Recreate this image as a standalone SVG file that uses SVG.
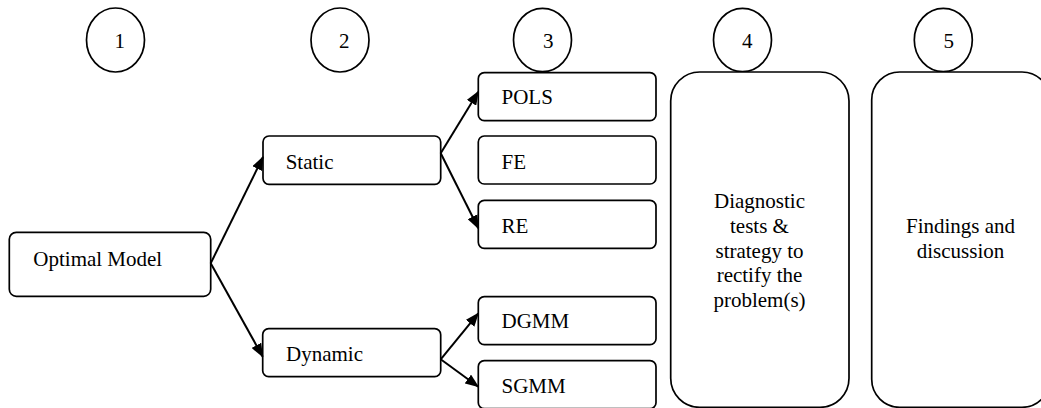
<svg xmlns="http://www.w3.org/2000/svg" width="1041" height="408" viewBox="0 0 1041 408">
<style>
.shape{fill:#fff;stroke:#000;stroke-width:1.7}
.t{font-family:"Liberation Serif","Times New Roman",serif;font-size:21px;fill:#000}
.c{text-anchor:middle}
.conn{stroke:#000;stroke-width:2;fill:none;marker-end:url(#arr)}
</style>
<defs>
<marker id="arr" markerUnits="userSpaceOnUse" markerWidth="14" markerHeight="11" refX="13" refY="5.5" orient="auto">
<path d="M0,0 L14,5.5 L0,11 z" fill="#000"/>
</marker>
</defs>
<rect width="1041" height="408" fill="#fff"/>
<g id="step1"><ellipse class="shape" cx="115.5" cy="40" rx="29" ry="32"/><text class="t" x="114.5" y="48">1</text></g>
<g id="step2"><ellipse class="shape" cx="340" cy="40" rx="29" ry="32"/><text class="t" x="339" y="48">2</text></g>
<g id="step3"><ellipse class="shape" cx="542.5" cy="40" rx="29" ry="31.7"/><text class="t" x="543" y="48">3</text></g>
<g id="step4"><ellipse class="shape" cx="742.5" cy="40" rx="29" ry="31.7"/><text class="t" x="742" y="48">4</text></g>
<g id="step5"><ellipse class="shape" cx="943.3" cy="40" rx="29" ry="31.7"/><text class="t" x="943.5" y="48">5</text></g>
<g id="optimal"><rect class="shape" x="9.3" y="232.3" width="201.4" height="64" rx="7"/><text class="t" x="33.3" y="266">Optimal Model</text></g>
<g id="static"><rect class="shape" x="263" y="136" width="177.7" height="48.3" rx="6"/><text class="t" x="285.7" y="169">Static</text></g>
<g id="dynamic"><rect class="shape" x="262.7" y="328.7" width="178" height="48" rx="6"/><text class="t" x="286" y="361">Dynamic</text></g>
<g id="pols"><rect class="shape" x="478.3" y="72.7" width="177.7" height="48" rx="6"/><text class="t" x="501.5" y="104.3">POLS</text></g>
<g id="fe"><rect class="shape" x="478.3" y="136" width="177.7" height="48" rx="6"/><text class="t" x="501.5" y="168.5">FE</text></g>
<g id="re"><rect class="shape" x="478.3" y="200.3" width="177.7" height="48" rx="6"/><text class="t" x="501.5" y="232.7">RE</text></g>
<g id="dgmm"><rect class="shape" x="478.3" y="296.7" width="177.7" height="48" rx="6"/><text class="t" x="501.5" y="328.3">DGMM</text></g>
<g id="sgmm"><rect class="shape" x="478.3" y="360.7" width="177.7" height="48" rx="6"/><text class="t" x="501.5" y="392.7">SGMM</text></g>
<g id="diagnostic"><rect class="shape" x="670.7" y="72" width="178.3" height="335.3" rx="29"/>
<text class="t c" x="759.5" y="208.3">Diagnostic</text>
<text class="t c" x="759.5" y="233">tests &amp;</text>
<text class="t c" x="759.5" y="257.5">strategy to</text>
<text class="t c" x="759.5" y="282">rectify the</text>
<text class="t c" x="759.5" y="306.7">problem(s)</text></g>
<g id="findings"><rect class="shape" x="871.7" y="72" width="178.3" height="335.3" rx="28"/>
<text class="t c" x="960.5" y="233.3">Findings and</text>
<text class="t c" x="960.5" y="258.3">discussion</text></g>
<g id="connectors">
<line class="conn" x1="210.7" y1="263.3" x2="263" y2="157"/>
<line class="conn" x1="210.7" y1="263.3" x2="262.7" y2="356.7"/>
<line class="conn" x1="440.7" y1="153.3" x2="478.3" y2="91.7"/>
<line class="conn" x1="440.7" y1="153.3" x2="478.3" y2="228.3"/>
<line class="conn" x1="440.7" y1="359.3" x2="478.3" y2="313.3"/>
<line class="conn" x1="440.7" y1="359.3" x2="478.3" y2="386.7"/>
</g>
</svg>
